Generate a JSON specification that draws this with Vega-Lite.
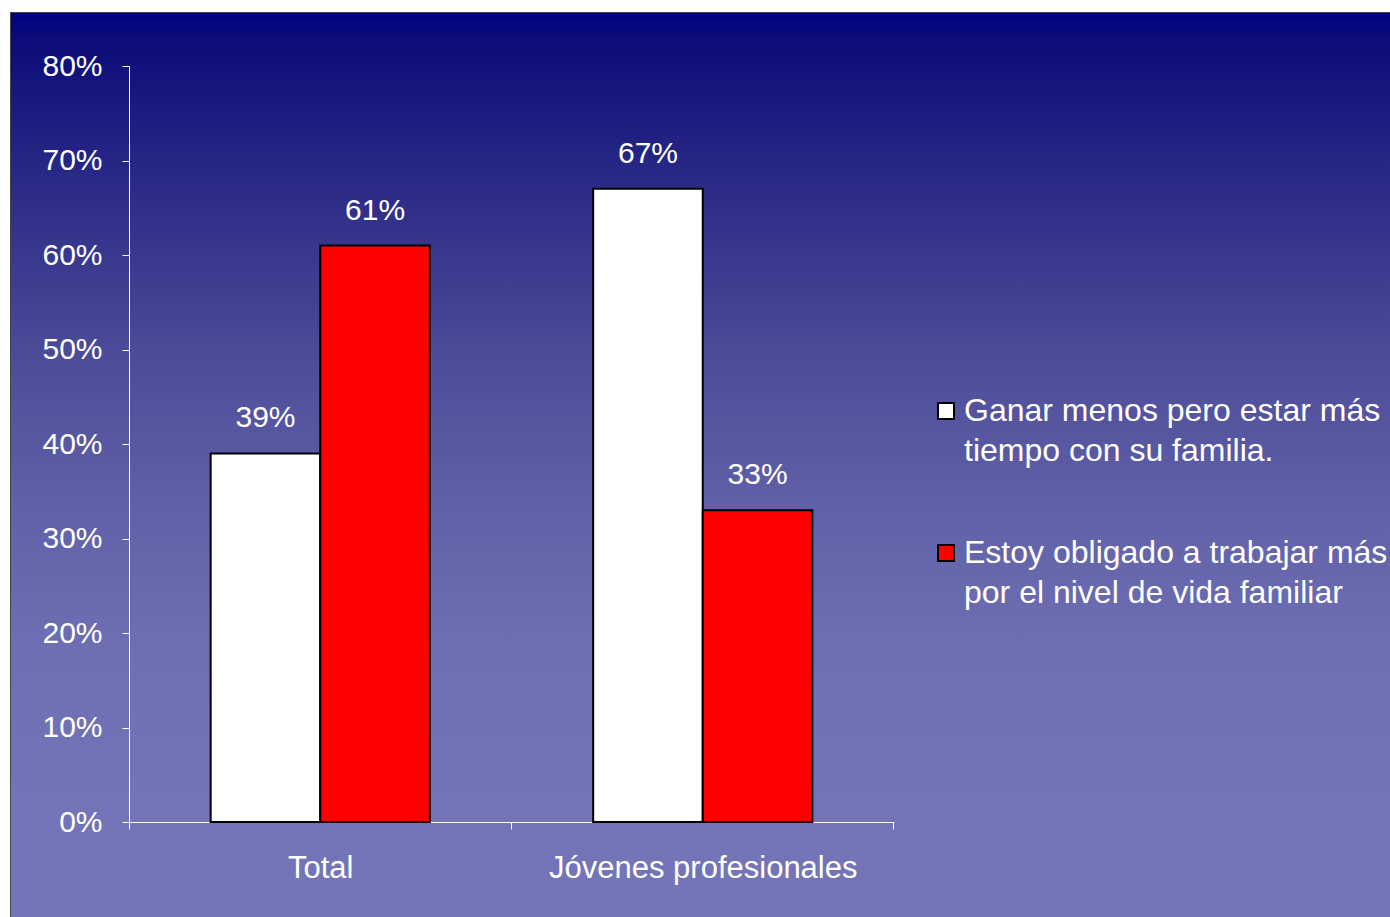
{
  "$schema": "https://vega.github.io/schema/vega-lite/v6.json",
  "width": 1380,
  "height": 905,
  "autosize": {"type": "none"},
  "padding": {"left": 10, "top": 12, "right": 0, "bottom": 0},
  "background": "white",
  "view": {
    "fill": {
      "gradient": "linear", "x1": 0, "y1": 0, "x2": 0, "y2": 1,
      "stops": [
        {"offset": 0, "color": "#000080"},
        {"offset": 0.03, "color": "#0c0c7a"},
        {"offset": 0.21, "color": "#2e2e88"},
        {"offset": 0.37, "color": "#4a4a98"},
        {"offset": 0.54, "color": "#6060a8"},
        {"offset": 0.70, "color": "#6e6eb3"},
        {"offset": 0.86, "color": "#7373b7"},
        {"offset": 1, "color": "#7474b8"}
      ]
    },
    "stroke": "#444444",
    "strokeWidth": 1
  },
  "config": {
    "font": "Liberation Sans",
    "style": {"guide-label": {"lineHeight": 40}}
  },
  "data": {
    "values": [
      {"grupo": "Total", "serie": "Ganar menos pero estar más tiempo con su familia.", "valor": 0.39},
      {"grupo": "Total", "serie": "Estoy obligado a trabajar más por el nivel de vida familiar", "valor": 0.61},
      {"grupo": "Jóvenes profesionales", "serie": "Ganar menos pero estar más tiempo con su familia.", "valor": 0.67},
      {"grupo": "Jóvenes profesionales", "serie": "Estoy obligado a trabajar más por el nivel de vida familiar", "valor": 0.33}
    ]
  },
  "encoding": {
    "x": {
      "field": "grupo", "type": "nominal",
      "sort": ["Total", "Jóvenes profesionales"],
      "scale": {"range": [119, 884], "paddingInner": 0.427, "paddingOuter": 0.2135},
      "axis": {
        "title": null, "offset": -95, "labelAngle": 0,
        "bandPosition": 1.7443, "tickOffset": -82, "labelOffset": 82, "tickExtra": true,
        "tickSize": 7, "tickColor": "white", "domainColor": "white",
        "labelColor": "white", "labelFontSize": 31, "labelPadding": 24,
        "labelLimit": 1000, "labelFont": "Liberation Sans"
      }
    },
    "xOffset": {
      "field": "serie", "type": "nominal",
      "sort": ["Ganar menos pero estar más tiempo con su familia.", "Estoy obligado a trabajar más por el nivel de vida familiar"],
      "scale": {"paddingInner": 0, "paddingOuter": 0}
    },
    "y": {
      "field": "valor", "type": "quantitative",
      "scale": {"domain": [0, 0.8], "range": [810, 54], "nice": false},
      "axis": {
        "title": null, "offset": -119, "values": [0, 0.1, 0.2, 0.3, 0.4, 0.5, 0.6, 0.7, 0.8],
        "format": ".0%", "grid": false, "tickSize": 7, "tickColor": "white",
        "domainColor": "white", "labelColor": "white", "labelFontSize": 30,
        "labelPadding": 20, "labelFont": "Liberation Sans"
      }
    }
  },
  "layer": [
    {
      "mark": {"type": "bar", "stroke": "#000000", "strokeWidth": 2, "opacity": 1},
      "encoding": {
        "fill": {
          "field": "serie", "type": "nominal",
          "scale": {
            "domain": ["Ganar menos pero estar más tiempo con su familia.", "Estoy obligado a trabajar más por el nivel de vida familiar"],
            "range": ["#ffffff", "#ff0000"]
          },
          "legend": {
            "orient": "none", "legendX": 920, "legendY": 383, "title": null,
            "padding": 0, "symbolType": "square", "symbolSize": 256,
            "symbolStrokeColor": "#000000", "symbolStrokeWidth": 2, "symbolOpacity": 1,
            "labelColor": "white", "labelFontSize": 32, "labelFont": "Liberation Sans",
            "labelLimit": 2000, "labelOffset": 2, "rowPadding": 70,
            "labelExpr": "datum.label == 'Ganar menos pero estar más tiempo con su familia.' ? ['Ganar menos pero estar más', 'tiempo con su familia.'] : ['Estoy obligado a trabajar más', 'por el nivel de vida familiar']"
          }
        }
      }
    },
    {
      "mark": {"type": "text", "dy": -26, "baseline": "alphabetic", "fontSize": 30, "color": "white", "font": "Liberation Sans"},
      "encoding": {"text": {"field": "valor", "type": "quantitative", "format": ".0%"}}
    }
  ]
}
